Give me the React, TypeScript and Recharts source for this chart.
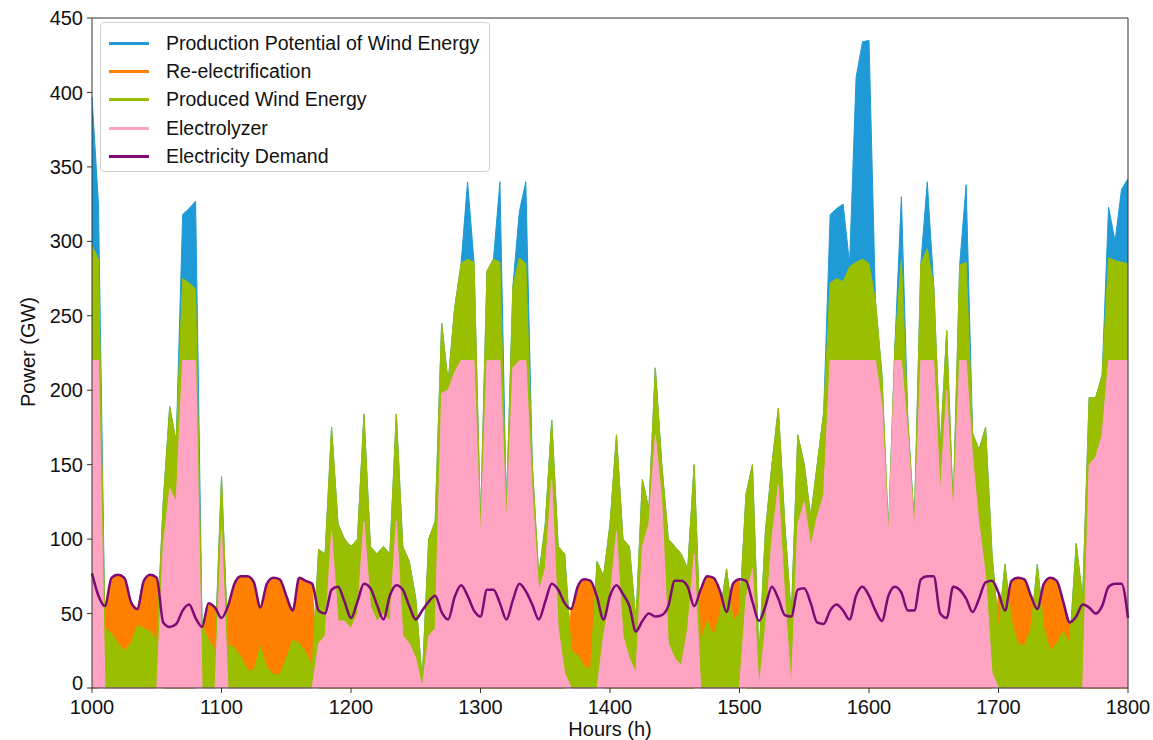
import { ComposedChart, Area, Line, XAxis, YAxis, ReferenceLine } from 'recharts';

// hours on the x axis (5 h steps)
const HOURS = [
  1000, 1005, 1010, 1015, 1020, 1025, 1030, 1035, 1040, 1045,
  1050, 1055, 1060, 1065, 1070, 1075, 1080, 1085, 1090, 1095,
  1100, 1105, 1110, 1115, 1120, 1125, 1130, 1135, 1140, 1145,
  1150, 1155, 1160, 1165, 1170, 1175, 1180, 1185, 1190, 1195,
  1200, 1205, 1210, 1215, 1220, 1225, 1230, 1235, 1240, 1245,
  1250, 1255, 1260, 1265, 1270, 1275, 1280, 1285, 1290, 1295,
  1300, 1305, 1310, 1315, 1320, 1325, 1330, 1335, 1340, 1345,
  1350, 1355, 1360, 1365, 1370, 1375, 1380, 1385, 1390, 1395,
  1400, 1405, 1410, 1415, 1420, 1425, 1430, 1435, 1440, 1445,
  1450, 1455, 1460, 1465, 1470, 1475, 1480, 1485, 1490, 1495,
  1500, 1505, 1510, 1515, 1520, 1525, 1530, 1535, 1540, 1545,
  1550, 1555, 1560, 1565, 1570, 1575, 1580, 1585, 1590, 1595,
  1600, 1605, 1610, 1615, 1620, 1625, 1630, 1635, 1640, 1645,
  1650, 1655, 1660, 1665, 1670, 1675, 1680, 1685, 1690, 1695,
  1700, 1705, 1710, 1715, 1720, 1725, 1730, 1735, 1740, 1745,
  1750, 1755, 1760, 1765, 1770, 1775, 1780, 1785, 1790, 1795,
  1800,
];

// GW
const POTENTIAL = [
  397, 325, 40, 37, 30, 25, 30, 42, 40, 38,
  32, 125, 189, 165, 318, 322, 327, 42, 32, 25,
  142, 29, 27, 21, 12, 12, 28, 14, 9, 9,
  20, 32, 30, 24, 14, 93, 90, 175, 110, 100,
  95, 100, 184, 95, 90, 95, 90, 184, 95, 85,
  60, 5, 100, 112, 245, 205, 255, 285, 340, 286,
  110, 280, 288, 340, 120, 270, 320, 340, 150, 75,
  110, 180, 95, 90, 25, 22, 15, 12, 85, 75,
  110, 170, 100, 95, 45, 140, 120, 215, 150, 100,
  95, 90, 80, 150, 30, 45, 35, 50, 80, 45,
  50, 130, 150, 20, 105, 150, 188, 110, 48, 170,
  150, 115, 150, 185, 318, 322, 325, 285, 410, 434,
  435, 260, 210, 105, 230, 330, 180, 110, 285, 340,
  270, 160, 240, 120, 284, 338, 171, 160, 175, 90,
  40, 83, 45, 30, 28, 40, 83, 40, 25, 30,
  38, 30, 97, 60, 195, 195, 210, 323, 300, 335,
  342,
];

const PRODUCED = [
  297, 288, 40, 37, 30, 25, 30, 42, 40, 38,
  32, 125, 189, 165, 275, 272, 268, 42, 32, 25,
  142, 29, 27, 21, 12, 12, 28, 14, 9, 9,
  20, 32, 30, 24, 14, 93, 90, 175, 110, 100,
  95, 100, 184, 95, 90, 95, 90, 184, 95, 85,
  60, 5, 100, 112, 245, 205, 255, 285, 288, 286,
  110, 280, 288, 286, 120, 270, 289, 285, 150, 75,
  110, 180, 95, 90, 25, 22, 15, 12, 85, 75,
  110, 170, 100, 95, 45, 140, 120, 215, 150, 100,
  95, 90, 80, 150, 30, 45, 35, 50, 80, 45,
  50, 130, 150, 20, 105, 150, 188, 110, 48, 170,
  150, 115, 150, 185, 272, 275, 273, 283, 286, 288,
  285, 260, 210, 105, 230, 288, 180, 110, 285, 295,
  270, 160, 240, 120, 284, 286, 171, 160, 175, 90,
  40, 83, 45, 30, 28, 40, 83, 40, 25, 30,
  38, 30, 97, 60, 195, 195, 210, 289, 287, 286,
  285,
];

const ELECTROLYZER = [
  220, 220, 0, 0, 0, 0, 0, 0, 0, 0,
  0, 95, 134, 125, 220, 220, 220, 0, 0, 0,
  106, 0, 0, 0, 0, 0, 0, 0, 0, 0,
  0, 0, 0, 0, 0, 30, 35, 105, 45, 45,
  40, 50, 112, 55, 45, 50, 45, 112, 35, 30,
  20, 0, 35, 40, 198, 200, 212, 220, 220, 220,
  100, 220, 220, 220, 110, 215, 220, 220, 130, 65,
  80, 140, 40, 10, 0, 0, 0, 0, 0, 35,
  60, 105, 35, 20, 10, 95, 110, 170, 125, 30,
  20, 15, 40, 90, 0, 0, 0, 0, 0, 0,
  0, 60, 80, 0, 40, 100, 136, 60, 0, 110,
  125, 95, 115, 130, 220, 220, 220, 220, 220, 220,
  220, 220, 190, 100, 220, 220, 170, 105, 220, 220,
  220, 130, 200, 115, 220, 220, 155, 110, 75, 10,
  0, 0, 0, 0, 0, 0, 0, 0, 0, 0,
  0, 0, 0, 0, 150, 155, 170, 220, 220, 220,
  220,
];

// top of the re-electrification band
const REELECTRIFICATION = [
  0, 0, 55, 74, 76, 74, 58, 53, 72, 76,
  74, 0, 0, 0, 0, 0, 0, 41, 57, 54,
  0, 55, 70, 75, 75, 71, 54, 70, 74, 73,
  62, 52, 74, 72, 70, 0, 0, 0, 0, 0,
  0, 0, 0, 0, 0, 0, 0, 0, 0, 0,
  0, 0, 0, 0, 0, 0, 0, 0, 0, 0,
  0, 0, 0, 0, 0, 0, 0, 0, 0, 0,
  0, 0, 0, 0, 53, 68, 73, 72, 61, 0,
  0, 0, 0, 0, 0, 0, 0, 0, 0, 0,
  0, 0, 0, 0, 66, 75, 74, 65, 51, 70,
  73, 0, 0, 0, 0, 0, 0, 0, 0, 0,
  0, 0, 0, 0, 0, 0, 0, 0, 0, 0,
  0, 0, 0, 0, 0, 0, 0, 0, 0, 0,
  0, 0, 0, 0, 0, 0, 0, 0, 0, 0,
  64, 52, 72, 74, 73, 62, 53, 70, 74, 72,
  58, 44, 48, 0, 0, 0, 0, 0, 0, 0,
  0,
];

const DEMAND = [
  77, 62, 55, 74, 76, 74, 58, 53, 72, 76,
  74, 44, 41, 43, 52, 56, 47, 41, 57, 54,
  47, 55, 70, 75, 75, 71, 54, 70, 74, 73,
  62, 52, 74, 72, 70, 52, 50, 66, 68, 58,
  47, 58, 70, 67, 56, 46, 62, 69, 66, 55,
  46, 52, 58, 62, 51, 46, 61, 69, 62, 52,
  48, 66, 66, 57, 46, 59, 70, 65, 56, 46,
  58, 70, 66, 57, 53, 68, 73, 72, 61, 46,
  62, 69, 63, 55, 38, 45, 50, 48, 49, 55,
  72, 72, 68, 55, 66, 75, 74, 65, 51, 70,
  73, 72, 58, 45, 55, 68, 60, 49, 48, 66,
  67, 57, 44, 43, 52, 56, 52, 46, 62, 68,
  62, 52, 45, 62, 68, 64, 52, 52, 73, 75,
  75, 50, 47, 68, 66, 60, 51, 60, 71, 72,
  64, 52, 72, 74, 73, 62, 53, 70, 74, 72,
  58, 44, 48, 56, 54, 50, 55, 68, 70, 70,
  47,
];

const X_TICKS = [1000, 1100, 1200, 1300, 1400, 1500, 1600, 1700, 1800];
const Y_TICKS = [0, 50, 100, 150, 200, 250, 300, 350, 400, 450];

const COLORS = {
  potential: '#1f9ad6',
  reelec: '#ff8000',
  produced: '#99bf00',
  electrolyzer: '#ffa3c3',
  demand: '#7d0a76',
};

const LEGEND = [
  { name: 'Production Potential of Wind Energy', color: COLORS.potential },
  { name: 'Re-electrification', color: COLORS.reelec },
  { name: 'Produced Wind Energy', color: COLORS.produced },
  { name: 'Electrolyzer', color: COLORS.electrolyzer },
  { name: 'Electricity Demand', color: COLORS.demand },
];

const rows = HOURS.map((hour, i) => ({
  hour,
  potential: POTENTIAL[i],
  reelec: REELECTRIFICATION[i],
  produced: PRODUCED[i],
  electrolyzer: ELECTROLYZER[i],
  demand: DEMAND[i],
}));

const FONT = '"Liberation Sans", Arial, sans-serif';

// y tick; the "0" sits a touch higher so it clears the "1000" below it
const YTick = ({ x, y, payload }: any) => (
  <text
    x={x}
    y={y}
    dy={payload.value === 0 ? '0.12em' : '0.355em'}
    textAnchor="end"
    fill="#111"
    fontSize={20}
    fontFamily={FONT}
  >
    {payload.value}
  </text>
);

export default function App() {
  return (
    <div style={{ position: 'absolute', left: 0, top: 0, width: 1153, height: 740, background: '#fff', fontFamily: FONT }}>
      <ComposedChart width={1153} height={740} data={rows} margin={{ top: 18, right: 25, bottom: 0, left: 0 }}>
        <XAxis
          type="number"
          dataKey="hour"
          domain={[1000, 1800]}
          ticks={X_TICKS}
          height={52}
          tickSize={5}
          tickMargin={7}
          stroke="#333"
          tick={{ fill: '#111', fontSize: 20, fontFamily: FONT }}
        />
        <YAxis
          type="number"
          domain={[0, 450]}
          ticks={Y_TICKS}
          width={92}
          tickSize={5}
          tickMargin={4}
          stroke="#333"
          tick={<YTick />}
        />
        <Area type="linear" dataKey="potential" fill={COLORS.potential} stroke={COLORS.potential} strokeWidth={1} fillOpacity={1} isAnimationActive={false} activeDot={false} />
        <Area type="linear" dataKey="reelec" fill={COLORS.reelec} stroke={COLORS.reelec} strokeWidth={1} fillOpacity={1} isAnimationActive={false} activeDot={false} />
        <Area type="linear" dataKey="produced" fill={COLORS.produced} stroke={COLORS.produced} strokeWidth={1} fillOpacity={1} isAnimationActive={false} activeDot={false} />
        <Area type="linear" dataKey="electrolyzer" fill={COLORS.electrolyzer} stroke={COLORS.electrolyzer} strokeWidth={1} fillOpacity={1} isAnimationActive={false} activeDot={false} />
        <Line type="monotone" dataKey="demand" stroke={COLORS.demand} strokeWidth={2.5} dot={false} activeDot={false} isAnimationActive={false} />
        {/* top and right frame */}
        <ReferenceLine y={450} stroke="#333" />
        <ReferenceLine x={1800} stroke="#333" />
      </ComposedChart>

      {/* legend */}
      <div
        style={{
          position: 'absolute',
          left: 100,
          top: 22,
          width: 390,
          height: 150,
          boxSizing: 'border-box',
          border: '1px solid #d0d0d0',
          borderRadius: 4,
          background: 'rgba(255,255,255,0.85)',
          paddingTop: 6,
          paddingLeft: 8,
        }}
      >
        {LEGEND.map((item) => (
          <div key={item.name} style={{ display: 'flex', alignItems: 'center', height: 28.4 }}>
            <div style={{ width: 40, height: 3, background: item.color, marginRight: 17 }}></div>
            <span style={{ fontSize: 19.5, color: '#111', whiteSpace: 'nowrap' }}>{item.name}</span>
          </div>
        ))}
      </div>

      {/* axis titles */}
      <div style={{ position: 'absolute', left: 560, top: 718, width: 100, textAlign: 'center', fontSize: 20, color: '#111', whiteSpace: 'nowrap' }}>
        Hours (h)
      </div>
      <div
        style={{
          position: 'absolute',
          left: 28,
          top: 352,
          transform: 'translate(-50%, -50%) rotate(-90deg)',
          fontSize: 20,
          color: '#111',
          whiteSpace: 'nowrap',
        }}
      >
        Power (GW)
      </div>
    </div>
  );
}
